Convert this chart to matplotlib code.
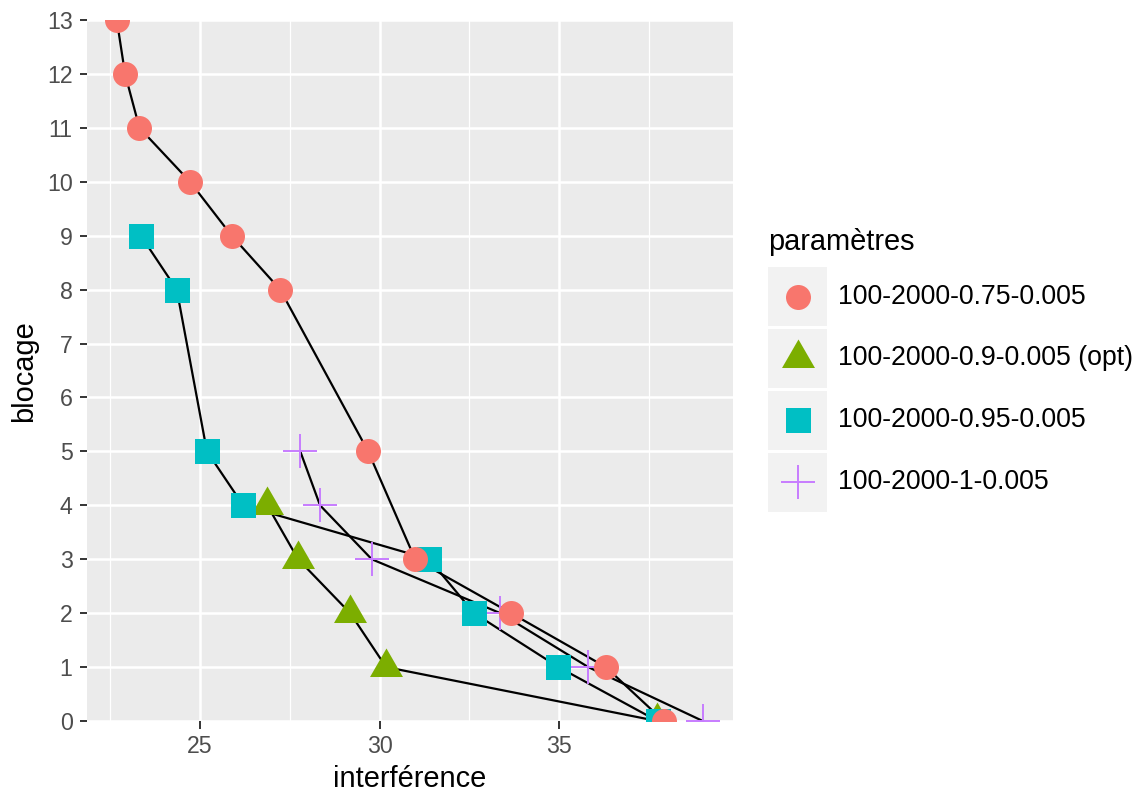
import numpy as np
import matplotlib
matplotlib.use("Agg")
import matplotlib.pyplot as plt
from matplotlib.patches import Rectangle
from matplotlib.lines import Line2D

plt.rcParams['font.family'] = ['Liberation Sans', 'DejaVu Sans']

# data (x = interférence, y = blocage)
labels = ['100-2000-0.75-0.005', '100-2000-0.9-0.005 (opt)',
          '100-2000-0.95-0.005', '100-2000-1-0.005']
colors = ['#F8766D', '#7CAE00', '#00BFC4', '#C77CFF']

x_075 = [22.68, 22.91, 23.31, 24.72, 25.88, 27.23, 29.68, 30.99, 33.66, 36.30, 37.91]
y_075 = [13, 12, 11, 10, 9, 8, 5, 3, 2, 1, 0]
x_09 = [26.87, 27.73, 29.18, 30.18, 37.73]
y_09 = [4, 3, 2, 1, 0]
x_095 = [23.35, 24.35, 25.19, 26.20, 31.38, 32.63, 34.98, 37.74]
y_095 = [9, 8, 5, 4, 3, 2, 1, 0]
x_1 = [27.79, 28.34, 29.78, 33.36, 35.81, 39.00]
y_1 = [5, 4, 3, 2, 1, 0]

series = [(x_075, y_075), (x_09, y_09), (x_095, y_095), (x_1, y_1)]

# equilateral triangle like ggplot's shape 17
tri = [(-1, -0.577), (1, -0.577), (0, 1.155), (-1, -0.577)]
marker_kw = [
    dict(marker='o', ms=18, mew=0),
    dict(marker=tri, ms=27.4, mew=0),
    dict(marker='s', ms=18, mew=0),
    dict(marker='+', ms=25, mew=1.4),
]

W, H = 1143, 796
fig = plt.figure(figsize=(W / 100, H / 100), dpi=100)
ax = fig.add_axes([87 / W, 1 - 721 / H, (733.3 - 87) / W, (721 - 20) / H])
ax.set_facecolor('#EBEBEB')
for s in ax.spines.values():
    s.set_visible(False)

# lines first (geom_line sorts by x), points on top
for xs, ys in series:
    order = np.argsort(xs)
    ax.plot(np.array(xs)[order], np.array(ys)[order], color='black', lw=1.6, zorder=2)

draw_order = [1, 3, 2, 0]
for i in draw_order:
    xs, ys = series[i]
    kw = marker_kw[i]
    ax.plot(xs, ys, linestyle='none', color=colors[i], mec=colors[i], zorder=3, **kw)

ax.set_xlim(21.85, 39.85)
ax.set_ylim(0, 13)
ax.set_xticks([25, 30, 35])
ax.set_xticks([22.5, 27.5, 32.5, 37.5], minor=True)
ax.set_yticks(range(0, 14))
ax.grid(which='major', color='white', lw=1.8, zorder=1)
ax.grid(which='minor', axis='x', color='white', lw=0.9, zorder=1)
ax.set_axisbelow(True)
ax.tick_params(which='major', length=5.4, width=1.4, color='#333333',
               labelsize=16.7, labelcolor='#4D4D4D', pad=5)
ax.tick_params(which='minor', length=0)

fig.text(410 / W, 1 - 787 / H, 'interférence', fontsize=20.9, ha='center', va='baseline')
fig.text(24 / W, 1 - 371 / H, 'blocage', fontsize=20.9, rotation=90, ha='center', va='center')

# legend drawn in pixel coordinates
lg = fig.add_axes([0, 0, 1, 1], zorder=5)
lg.set_xlim(0, W)
lg.set_ylim(H, 0)
lg.axis('off')
lg.text(768, 250, 'paramètres', fontsize=20.9, ha='left', va='baseline')
key_top = [267, 328.5, 390.5, 452.5]
for i, top in enumerate(key_top):
    lg.add_patch(Rectangle((768, top), 59, 59, facecolor='#F2F2F2', edgecolor='none'))
    cy = top + 29.5
    lg.add_line(Line2D([797.5], [cy], linestyle='none', color=colors[i], mec=colors[i],
                       **marker_kw[i]))
    lg.text(838, cy, labels[i], fontsize=19.2, ha='left', va='center')

fig.savefig('out.png', dpi=100)
